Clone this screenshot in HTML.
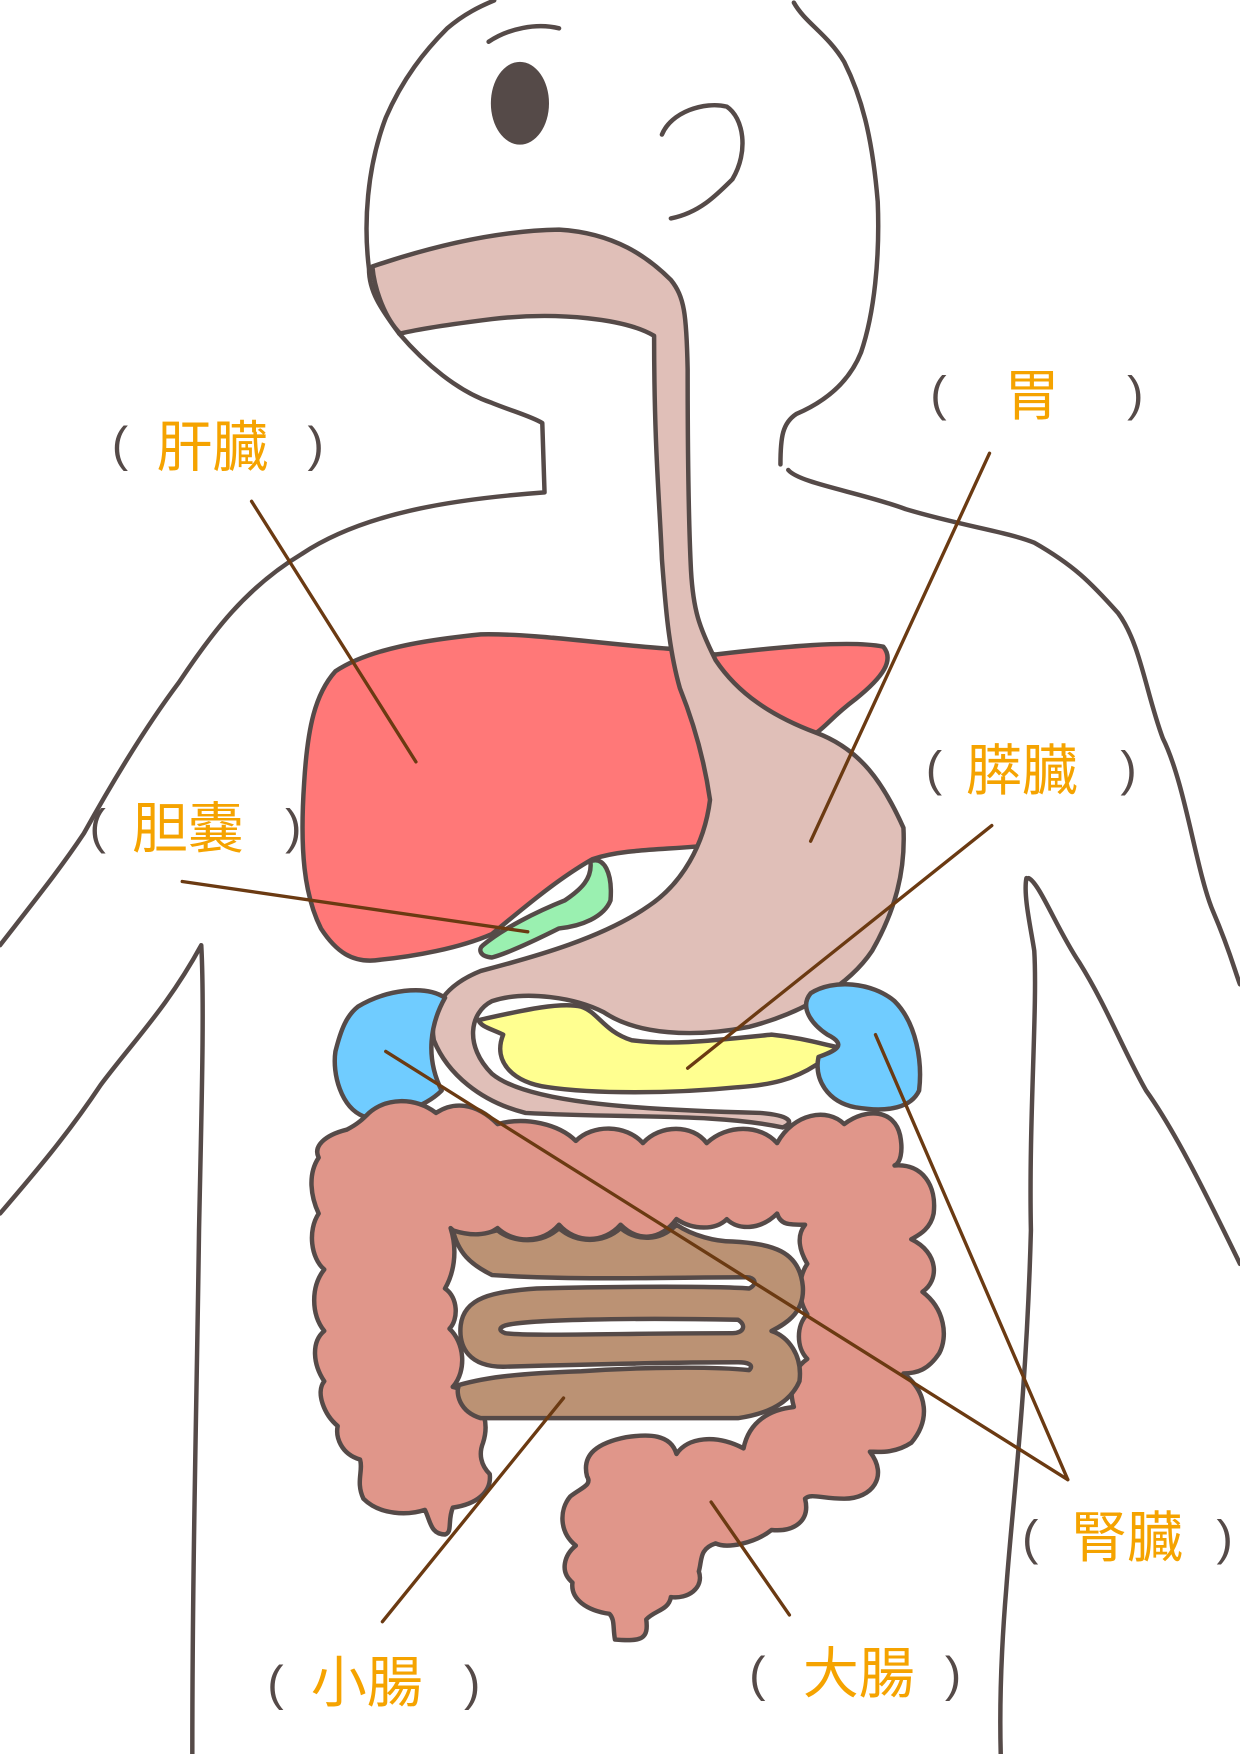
<!DOCTYPE html>
<html><head><meta charset="utf-8"><style>
html,body{margin:0;padding:0;background:#fff}
svg{display:block}
.t{font-family:"Liberation Sans","Noto Sans CJK JP",sans-serif;font-size:50px;fill:#f5a300}
.p{font-family:"Liberation Sans","Noto Sans CJK JP",sans-serif;font-size:44px;fill:#554a48}
</style></head><body>
<svg width="1240" height="1754" viewBox="0 0 1109 1568" xmlns="http://www.w3.org/2000/svg">
<g fill="none" stroke="#554a48" stroke-width="4" stroke-linecap="round" stroke-linejoin="round">
<path d="M357,298 C340,275 330,260 330,240 C325,200 328,150 345,105 C360,70 380,45 400,25 C415,12 430,5 442,0"/>
<path d="M710,2 C720,20 740,30 755,55 C770,85 780,120 785,180 C787,230 782,280 770,315 C760,340 740,358 712,370 C700,378 698,390 698,415"/>
<path d="M357,298 C380,325 410,350 440,360 C460,368 475,372 485,378 L487,440 C420,445 330,455 270,495 C220,525 190,565 160,610 C130,650 100,700 75,745 C55,775 35,800 0,845"/>
<path d="M705,420 C715,432 770,440 810,455 C860,470 900,475 925,485 C960,505 975,520 1000,548 C1020,575 1025,620 1040,660 C1060,700 1070,780 1085,815 C1100,850 1105,870 1109,880"/>
<path d="M0,1085 C30,1050 60,1015 90,970 C120,930 150,900 180,845 C183,900 180,1000 178,1100 C176,1250 172,1400 172,1568"/>
<path d="M918,785 C915,800 922,830 925,850 C928,900 920,1000 922,1100 C918,1250 905,1350 900,1420 C895,1480 894,1530 895,1568"/>
<path d="M920,785 C930,790 945,830 965,860 C990,900 1005,940 1025,975 C1050,1010 1075,1060 1109,1130"/>
<path d="M437,37 C455,25 480,20 500,25"/>
<path d="M592,120 C600,100 630,90 650,95 C665,105 670,135 655,160 C640,175 625,190 600,195"/>
</g>
<ellipse cx="465" cy="92" rx="26" ry="37" fill="#554a48"/>
<g stroke="#554a48" stroke-width="4" stroke-linejoin="round">
<path fill="#ff7878" d="M300,600 C330,580 380,572 430,567 C480,566 540,576 600,580 L640,585 C700,578 760,572 790,578 C800,590 790,605 765,625 C745,640 738,650 730,655 L640,755 C600,760 560,758 530,768 C500,785 470,810 440,835 C410,848 370,855 340,858 C315,862 300,850 287,830 C272,800 268,760 272,700 C275,650 282,620 300,600 Z"/>
<path fill="#e0bfb8" d="M333,238 C380,222 440,206 500,205 C550,208 580,230 600,250 C612,265 614,280 615,330 C615,400 616,470 618,510 C620,545 625,560 640,590 C660,620 690,640 730,655 C770,670 790,700 808,740 C810,780 800,815 780,850 C760,880 720,905 670,918 C620,928 570,925 540,905 C515,892 470,885 440,895 C420,905 415,935 440,960 C470,985 560,992 680,995 C705,997 712,1003 700,1008 C640,995 560,1000 470,995 C430,985 400,960 388,930 C383,900 400,880 430,868 C480,855 540,838 580,810 C610,790 630,755 635,715 C630,680 620,645 608,615 C598,580 595,540 592,500 C590,450 585,400 585,300 C560,285 500,278 440,285 C400,290 370,295 358,298 C345,285 335,260 333,238 Z"/>
<path fill="#9af0b0" d="M432,845 C450,830 480,815 505,805 C520,795 530,785 528,770 C540,765 548,780 546,805 C540,820 520,828 500,830 C480,840 455,852 440,856 C428,855 428,848 432,845 Z"/>
<path fill="#ffff90" d="M428,912 C460,905 500,895 520,900 C535,905 540,922 565,930 C600,935 640,930 690,925 C720,928 740,935 758,938 C762,945 745,950 730,952 C710,965 690,970 660,972 C600,978 530,978 490,972 C460,968 440,950 450,925 C440,920 430,918 428,912 Z"/>
<path fill="#70ccff" d="M320,900 C345,885 380,880 398,892 C385,915 380,945 395,975 C380,990 350,1000 325,998 C305,990 297,960 300,940 C305,920 310,908 320,900 Z"/>
<path fill="#70ccff" d="M725,888 C745,875 780,878 800,895 C820,915 825,950 822,975 C815,990 795,995 765,990 C740,985 728,965 732,945 C745,940 760,935 740,925 C725,915 715,900 725,888 Z"/>
<path fill="#e0968a" fill-rule="evenodd" d="M330,995 C345,982 370,980 390,995 C405,985 425,985 445,1005 C470,998 500,1005 515,1020 C530,1005 560,1005 575,1022 C590,1005 620,1005 632,1022 C650,1005 680,1005 695,1022 C710,995 740,990 755,1005 C775,990 800,992 805,1015 C808,1030 805,1040 800,1042 C825,1040 838,1060 835,1085 C832,1100 820,1105 815,1108 C840,1120 840,1145 825,1155 C845,1170 848,1195 840,1210 C830,1225 820,1228 808,1228 C830,1245 832,1270 815,1290 C800,1300 785,1298 778,1298 C795,1320 780,1340 755,1340 C735,1340 725,1335 720,1340 C725,1360 710,1370 690,1368 C675,1380 650,1385 640,1380 C625,1385 628,1395 625,1405 C630,1420 615,1430 600,1428 C598,1440 585,1440 578,1448 C580,1465 575,1468 550,1466 C548,1455 550,1448 545,1443 C525,1440 510,1430 512,1415 C500,1405 505,1390 515,1382 C500,1370 500,1350 510,1338 C520,1330 530,1328 525,1320 C520,1300 535,1290 560,1285 C580,1282 600,1282 605,1300 C615,1285 640,1282 665,1295 C670,1270 690,1260 710,1258 C705,1240 708,1225 722,1215 C712,1205 712,1185 722,1175 C712,1160 715,1140 722,1130 C715,1118 712,1105 720,1095 C705,1095 698,1095 695,1085 C680,1100 660,1100 650,1090 C640,1100 620,1100 605,1090 C590,1110 570,1110 555,1095 C540,1112 515,1112 500,1095 C485,1112 460,1112 445,1098 C430,1108 415,1110 403,1098 C410,1120 405,1140 398,1152 C410,1160 410,1180 402,1188 C415,1200 418,1225 405,1240 C425,1245 440,1265 432,1290 C428,1300 430,1310 438,1318 C440,1335 425,1345 405,1348 C400,1360 405,1370 398,1372 C385,1372 385,1360 380,1350 C365,1355 340,1355 325,1340 C318,1325 325,1315 322,1305 C305,1300 300,1285 302,1275 C290,1265 282,1245 290,1235 C280,1220 278,1200 290,1190 C278,1175 278,1150 290,1135 C278,1125 275,1100 285,1085 C278,1070 275,1050 285,1035 C280,1025 290,1015 310,1010 C320,1005 325,1000 330,995 Z"/>
<path fill="#bb9274" d="M405,1100 C430,1108 440,1100 445,1100 C460,1112 485,1112 500,1098 C515,1112 540,1112 555,1098 C570,1110 590,1110 605,1095 C620,1105 640,1110 655,1110 C690,1112 715,1118 718,1150 C720,1175 700,1185 690,1190 C705,1195 718,1212 715,1235 C705,1258 680,1265 660,1268 L430,1268 C410,1262 408,1245 410,1240 L405,1240 C430,1232 460,1228 520,1226 C580,1222 640,1222 670,1225 C675,1220 668,1218 660,1218 C600,1218 520,1220 450,1222 C420,1222 410,1205 412,1185 C415,1160 440,1155 480,1152 C560,1150 640,1150 670,1152 C678,1148 675,1142 668,1142 C600,1142 520,1145 440,1140 C420,1130 410,1120 405,1100 Z"/>
<path fill="#fff" d="M452,1185 C470,1180 560,1178 660,1180 C668,1185 665,1192 655,1192 C560,1192 470,1195 452,1192 C446,1190 446,1187 452,1185 Z"/>
</g>
<g stroke="#6b3a12" stroke-width="3" stroke-linecap="round">
<line x1="225" y1="448" x2="372" y2="681"/>
<line x1="885" y1="405" x2="725" y2="752"/>
<line x1="887" y1="738" x2="615" y2="955"/>
<line x1="163" y1="788" x2="472" y2="833"/>
<line x1="345" y1="940" x2="955" y2="1323"/>
<line x1="783" y1="925" x2="955" y2="1323"/>
<line x1="504" y1="1250" x2="342" y2="1450"/>
<line x1="636" y1="1343" x2="706" y2="1444"/>
</g>
<text class="p" x="100" y="412">(</text><text class="t" x="140" y="417">肝臓</text><text class="p" x="275" y="412">)</text>
<text class="p" x="832" y="367">(</text><text class="t" x="898" y="371">胃</text><text class="p" x="1008" y="367">)</text>
<text class="p" x="828" y="702">(</text><text class="t" x="864" y="706">膵臓</text><text class="p" x="1002" y="702">)</text>
<text class="p" x="80" y="754">(</text><text class="t" x="118" y="758">胆嚢</text><text class="p" x="255" y="754">)</text>
<text class="p" x="914" y="1390">(</text><text class="t" x="958" y="1392">腎臓</text><text class="p" x="1088" y="1390">)</text>
<text class="p" x="239" y="1520">(</text><text class="t" x="278" y="1522">小腸</text><text class="p" x="415" y="1520">)</text>
<text class="p" x="670" y="1512">(</text><text class="t" x="718" y="1514">大腸</text><text class="p" x="845" y="1512">)</text>
</svg>
</body></html>
